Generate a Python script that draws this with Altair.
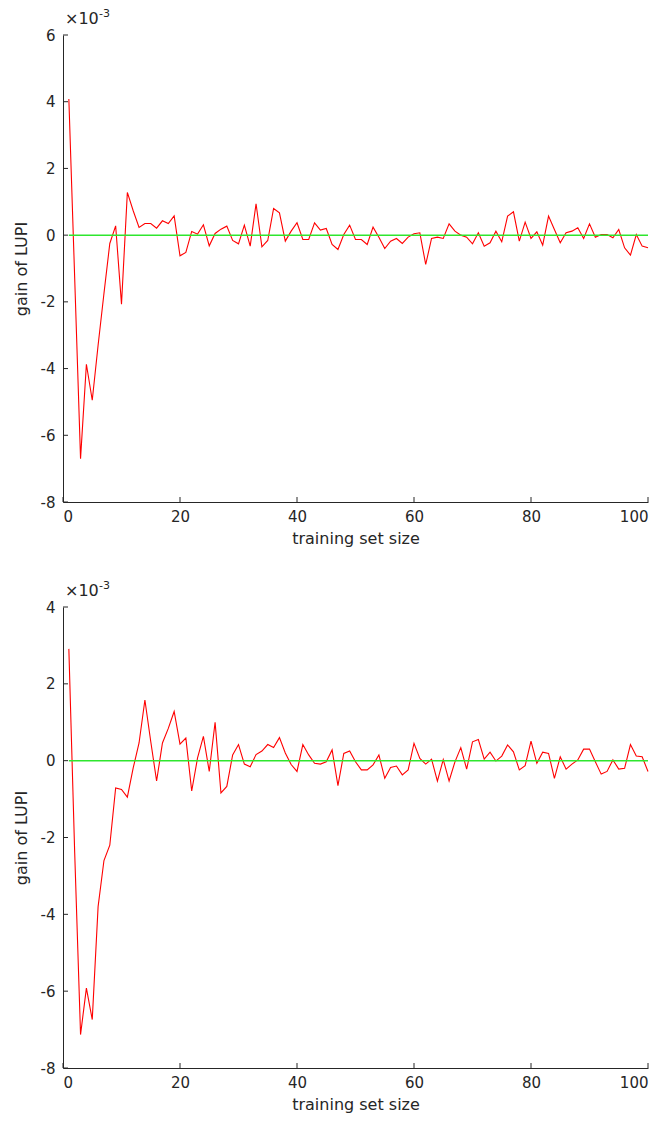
import altair as alt
import pandas as pd

# training set sizes
sizes = list(range(1, 101))

# gain of LUPI (x 10^-3), top panel
gain_top = [
    4.08, -1.3, -6.7, -3.87, -4.95, -3.3, -1.75, -0.25, 0.28, -2.07,
    1.28, 0.73, 0.23, 0.35, 0.35, 0.21, 0.43, 0.35, 0.58, -0.62,
    -0.52, 0.11, 0.03, 0.31, -0.32, 0.05, 0.18, 0.27, -0.16, -0.26,
    0.30, -0.33, 0.94, -0.35, -0.16, 0.80, 0.67, -0.18, 0.12, 0.37,
    -0.13, -0.13, 0.37, 0.15, 0.20, -0.28, -0.43, 0.02, 0.30, -0.13,
    -0.13, -0.28, 0.24, -0.06, -0.40, -0.18, -0.10, -0.25, -0.06, 0.04,
    0.07, -0.88, -0.10, -0.06, -0.10, 0.34, 0.12, 0.00, -0.06, -0.26,
    0.07, -0.33, -0.23, 0.12, -0.20, 0.57, 0.70, -0.18, 0.39, -0.10,
    0.10, -0.30, 0.57, 0.17, -0.23, 0.07, 0.12, 0.22, -0.10, 0.34,
    -0.06, 0.02, 0.02, -0.08, 0.17, -0.38, -0.60, 0.02, -0.33, -0.38,
]

# gain of LUPI (x 10^-3), bottom panel
gain_bottom = [
    2.91, -2.4, -7.13, -5.92, -6.74, -3.8, -2.6, -2.2, -0.71, -0.75,
    -0.95, -0.19, 0.46, 1.58, 0.50, -0.53, 0.46, 0.84, 1.28, 0.43,
    0.59, -0.79, 0.07, 0.63, -0.28, 1.00, -0.84, -0.67, 0.15, 0.42,
    -0.09, -0.16, 0.16, 0.25, 0.42, 0.34, 0.60, 0.20, -0.10, -0.28,
    0.42, 0.15, -0.07, -0.09, -0.03, 0.28, -0.65, 0.19, 0.25, -0.03,
    -0.24, -0.24, -0.11, 0.15, -0.46, -0.18, -0.14, -0.37, -0.24, 0.45,
    0.06, -0.09, 0.04, -0.53, 0.03, -0.53, -0.03, 0.34, -0.22, 0.49,
    0.55, 0.04, 0.22, -0.01, 0.12, 0.41, 0.23, -0.24, -0.13, 0.51,
    -0.07, 0.22, 0.19, -0.46, 0.10, -0.22, -0.09, 0.02, 0.30, 0.30,
    -0.03, -0.35, -0.28, 0.02, -0.22, -0.20, 0.42, 0.12, 0.10, -0.28,
]

x_ticks = [0, 20, 40, 60, 80, 100]
y_ticks_top = [-8, -6, -4, -2, 0, 2, 4, 6]
y_ticks_bottom = [-8, -6, -4, -2, 0, 2, 4]
zero_line = {"x": [1], "x2": [100], "y": [0]}
exponent_base = "×10"
exponent_power = "-3"

AX = "#262626"
W = 585
FONT = "DejaVu Sans"


def axis_common():
    return dict(tickSize=0, grid=False, domainColor=AX, domainWidth=1,
                labelColor=AX, titleColor=AX, labelFont=FONT, titleFont=FONT,
                labelFontSize=15, titleFontSize=16, titleFontWeight="normal",
                labelExpr="toString(datum.value)")


def panel(values, ymin, ymax, yticks, h):
    df = pd.DataFrame({"size": sizes, "gain": values})
    xs = alt.Scale(domain=[0, 100], nice=False)
    ys = alt.Scale(domain=[ymin, ymax], nice=False, zero=False)

    line = alt.Chart(df).mark_line(color="#ff0000", strokeWidth=1.1).encode(
        x=alt.X("size:Q", scale=xs,
                axis=alt.Axis(values=x_ticks, title="training set size",
                              labelPadding=7, titlePadding=6, **axis_common())),
        y=alt.Y("gain:Q", scale=ys,
                axis=alt.Axis(values=yticks, title="gain of LUPI",
                              labelPadding=8, titlePadding=11, **axis_common())),
    )
    zero = alt.Chart(pd.DataFrame(zero_line)).mark_rule(
        color="#2ee62e", strokeWidth=1.5
    ).encode(
        x=alt.X("x:Q", scale=xs), x2="x2:Q", y=alt.Y("y:Q", scale=ys)
    )
    xt = alt.Chart(pd.DataFrame({"t": x_ticks})).mark_rule(color=AX, strokeWidth=1).encode(
        x=alt.X("t:Q", scale=xs), y=alt.value(h), y2=alt.value(h - 5)
    )
    yt = alt.Chart(pd.DataFrame({"t": yticks})).mark_rule(color=AX, strokeWidth=1).encode(
        y=alt.Y("t:Q", scale=ys), x=alt.value(0), x2=alt.value(5)
    )
    base_txt = alt.Chart(pd.DataFrame({"s": [exponent_base]})).mark_text(
        font=FONT, fontSize=16, color=AX, align="left", baseline="alphabetic"
    ).encode(text="s:N", x=alt.value(2), y=alt.value(-11))
    pow_txt = alt.Chart(pd.DataFrame({"s": [exponent_power]})).mark_text(
        font=FONT, fontSize=11, color=AX, align="left", baseline="alphabetic"
    ).encode(text="s:N", x=alt.value(36), y=alt.value(-18))
    return alt.layer(line, zero, xt, yt, base_txt, pow_txt).properties(width=W, height=h)


top = panel(gain_top, -8, 6, y_ticks_top, 467)
bottom = panel(gain_bottom, -8, 4, y_ticks_bottom, 461)

chart = alt.vconcat(top, bottom, spacing=34, background="white").properties(
    padding={"top": 0, "left": 5, "right": 5, "bottom": 5}
).configure_view(stroke=None)

chart.save("out.html", embed_options={"renderer": "svg", "actions": False})
